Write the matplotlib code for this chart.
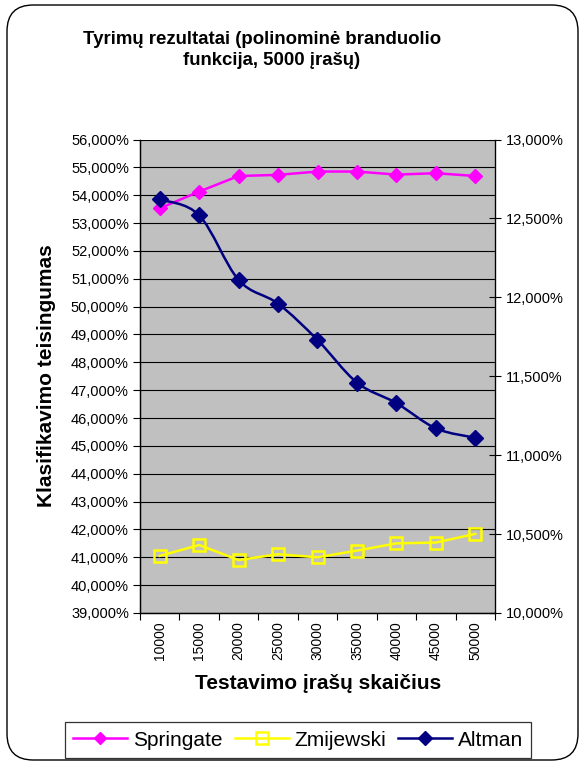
import matplotlib
matplotlib.use("Agg")
import matplotlib.pyplot as plt
from matplotlib.path import Path
from matplotlib.patches import PathPatch, FancyBboxPatch
from matplotlib.lines import Line2D
from matplotlib.ticker import FuncFormatter, MultipleLocator, FixedLocator
import numpy as np

plt.rcParams['font.family'] = ['Liberation Sans', 'DejaVu Sans']

# Data
records = ["10000", "15000", "20000", "25000", "30000", "35000", "40000", "45000", "50000"]
springate = [53.53, 54.13, 54.69, 54.73, 54.85, 54.85, 54.74, 54.79, 54.69]   # left axis, %
zmijewski = [41.05, 41.44, 40.90, 41.11, 41.00, 41.24, 41.50, 41.53, 41.84]   # left axis, %
altman = [12.62, 12.52, 12.11, 11.96, 11.73, 11.46, 11.33, 11.17, 11.11]      # right axis, %

title_lines = ["Tyrimų rezultatai (polinominė branduolio ", "funkcija, 5000 įrašų)"]
xlabel = "Testavimo įrašų skaičius"
ylabel = "Klasifikavimo teisingumas"

W, H = 584, 765
fig = plt.figure(figsize=(W / 100, H / 100), dpi=100)

# rounded outer frame
frame = FancyBboxPatch((7 / W, 5 / H), 571 / W, 755 / H,
                       boxstyle="round,pad=0,rounding_size=0.045",
                       transform=fig.transFigure, facecolor='none',
                       edgecolor='black', linewidth=1.0,
                       mutation_aspect=W / H, zorder=10)
fig.patches.append(frame)

left, right, top, bottom = 140, 495, 139.5, 613
ax = fig.add_axes([left / W, 1 - bottom / H, (right - left) / W, (bottom - top) / H])
ax.set_facecolor('#C0C0C0')
ax2 = ax.twinx()

x = np.arange(len(records))

# left axis series
ax.plot(x, springate, color='#FF00FF', lw=1.8, marker='D', ms=7,
        mfc='#FF00FF', mec='#FF00FF', zorder=5)
ax.plot(x, zmijewski, color='#FFFF00', lw=1.8, marker='s', ms=8.5,
        mfc='none', mec='#FFFF00', mew=1.8, zorder=5)

# right axis series drawn as smoothed Bezier curve through the points
pts = np.column_stack([x, altman]).astype(float)
n = len(pts)
verts = [pts[0]]
codes = [Path.MOVETO]
for i in range(n - 1):
    p0 = pts[i - 1] if i > 0 else pts[i]
    p1 = pts[i]
    p2 = pts[i + 1]
    p3 = pts[i + 2] if i + 2 < n else pts[i + 1]
    c1 = p1 + (p2 - p0) / 6.0
    c2 = p2 - (p3 - p1) / 6.0
    verts += [c1, c2, p2]
    codes += [Path.CURVE4] * 3
ax2.add_patch(PathPatch(Path(verts, codes), facecolor='none',
                        edgecolor='#000080', lw=1.8, zorder=5))
ax2.plot(x, altman, ls='none', marker='D', ms=8, mfc='#000080',
         mec='#000080', zorder=6)

# axes limits and ticks
ax.set_xlim(-0.5, len(records) - 0.5)
ax.set_ylim(39, 56)
ax2.set_ylim(10, 13)

ax.yaxis.set_major_locator(MultipleLocator(1))
ax2.yaxis.set_major_locator(MultipleLocator(0.5))
fmt = FuncFormatter(lambda v, p: f"{v:.3f}".replace('.', ',') + "%")
ax.yaxis.set_major_formatter(fmt)
ax2.yaxis.set_major_formatter(fmt)

ax.set_xticks(x)
ax.set_xticklabels(records, rotation=90, fontsize=10)
ax.xaxis.set_minor_locator(FixedLocator(np.arange(-0.5, len(records), 1.0)))
ax.tick_params(axis='x', which='major', length=0, pad=6)
ax.tick_params(axis='x', which='minor', length=5, width=0.8, direction='out')
ax.tick_params(axis='y', length=5, width=0.8, direction='out', labelsize=10.5, pad=3)
ax2.tick_params(axis='y', length=9, width=0.8, direction='inout', labelsize=10.5, pad=3)

ax.grid(axis='y', color='black', lw=0.8)
ax.set_axisbelow(True)
for a in (ax, ax2):
    a.spines['top'].set_visible(False)
    for s in ('left', 'right', 'bottom'):
        a.spines[s].set_linewidth(0.9)
ax.spines['right'].set_color('#808080')

# texts
fig.text(265 / W, 1 - 44 / H, title_lines[0], ha='center', va='baseline',
         fontsize=13.4, fontweight='bold')
fig.text(272 / W, 1 - 65 / H, title_lines[1], ha='center', va='baseline',
         fontsize=13.4, fontweight='bold')
fig.text(318 / W, 1 - 689 / H, xlabel, ha='center', va='baseline',
         fontsize=15, fontweight='bold')
fig.text(47 / W, 1 - 376 / H, ylabel, ha='center', va='center', rotation=90,
         fontsize=15, fontweight='bold')

# legend
handles = [
    Line2D([], [], color='#FF00FF', lw=1.8, marker='D', ms=6.5, mfc='#FF00FF', mec='#FF00FF'),
    Line2D([], [], color='#FFFF00', lw=1.8, marker='s', ms=8, mfc='none', mec='#FFFF00', mew=1.8),
    Line2D([], [], color='#000080', lw=1.8, marker='D', ms=7.5, mfc='#000080', mec='#000080'),
]
leg = fig.legend(handles, ["Springate", "Zmijewski", "Altman"], loc='center',
                 bbox_to_anchor=(298 / W, 1 - 740 / H), ncol=3, fontsize=15,
                 frameon=True, fancybox=False, edgecolor='black',
                 handlelength=2.6, handletextpad=0.25, columnspacing=0.6,
                 borderpad=0.4, borderaxespad=0)
leg.get_frame().set_linewidth(0.9)

fig.savefig("out.png", dpi=100)
